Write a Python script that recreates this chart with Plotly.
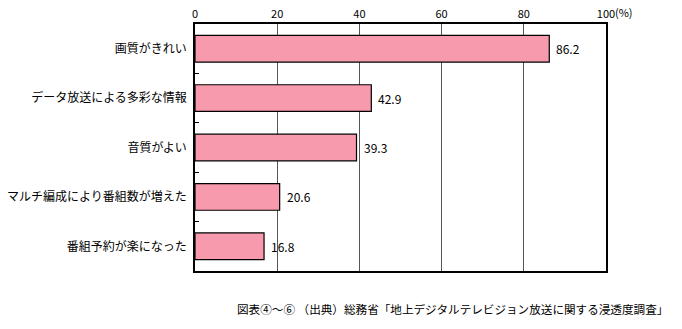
import plotly.graph_objects as go

categories = ["画質がきれい", "データ放送による多彩な情報", "音質がよい", "マルチ編成により番組数が増えた", "番組予約が楽になった"]
values = [86.2, 42.9, 39.3, 20.6, 16.8]
tick_vals = [0, 20, 40, 60, 80, 100]
tick_text = ["0", "20", "40", "60", "80", "100"]
source_text = "図表④～⑥ （出典）総務省「地上デジタルテレビジョン放送に関する浸透度調査」"

FONT = "Noto Sans CJK JP"

fig = go.Figure()
fig.add_trace(go.Bar(
    x=values, y=categories, orientation="h",
    marker=dict(color="#F79AAD", line=dict(color="black", width=1.2)),
    width=0.54,
    cliponaxis=False,
))

for c, v in zip(categories, values):
    fig.add_annotation(x=v, y=c, xref="x", yref="y", text=f"{v:.1f}",
                       showarrow=False, xanchor="left", yanchor="middle",
                       xshift=5, font=dict(size=12))

fig.update_layout(
    width=682, height=329,
    margin=dict(l=195, r=76, t=24, b=58, autoexpand=False),
    paper_bgcolor="white", plot_bgcolor="white",
    showlegend=False,
    font=dict(family=FONT, size=12, color="black"),
    xaxis=dict(
        range=[0, 100], side="top", tickvals=tick_vals, ticktext=tick_text,
        showgrid=True, gridcolor="#555555", gridwidth=1,
        showline=True, linecolor="black", linewidth=1.5, mirror=True,
        ticks="", tickfont=dict(size=11), zeroline=False, automargin=False,
    ),
    yaxis=dict(
        categoryorder="array", categoryarray=categories, autorange="reversed",
        showline=True, linecolor="black", linewidth=1.5, mirror=True,
        ticks="inside", ticklen=4, tickcolor="black", tickson="boundaries",
        showgrid=False, tickfont=dict(size=12), ticklabelstandoff=4,
        automargin=False,
    ),
)

fig.add_annotation(x=1.0, y=1.0, xref="paper", yref="paper", text="(%)",
                   showarrow=False, xanchor="left", yanchor="bottom",
                   xshift=7, yshift=2, font=dict(size=11))
fig.add_annotation(x=(670 - 195) / (682 - 195 - 76), y=-(309 - 271) / (329 - 24 - 58),
                   xref="paper", yref="paper", text=source_text,
                   showarrow=False, xanchor="right", yanchor="middle",
                   font=dict(size=11.6))

fig.write_html("out.html")
